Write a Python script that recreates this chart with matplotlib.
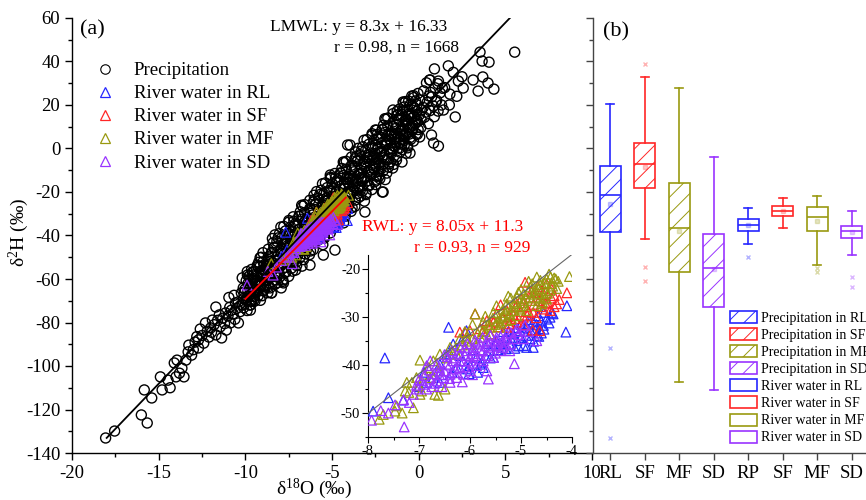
import matplotlib
matplotlib.use('Agg')
import matplotlib.pyplot as plt
from matplotlib.lines import Line2D
from matplotlib.patches import Patch
from matplotlib.ticker import MultipleLocator

plt.rcParams['font.family'] = ['Liberation Serif', 'DejaVu Serif']
plt.rcParams['mathtext.fontset'] = 'custom'
plt.rcParams['mathtext.rm'] = 'Liberation Serif'
plt.rcParams['mathtext.it'] = 'Liberation Serif:italic'
plt.rcParams['hatch.linewidth'] = 0.7
plt.rcParams['axes.unicode_minus'] = False

# ---------------- data: precipitation (delta18O, delta2H) ----------------
precip_pts = [
    # low tail
    (-18.06, -133.1), (-17.54, -129.9), (-16.0, -122.5), (-15.66, -126.2), (-15.83, -111.0),
    (-15.4, -114.7), (-14.9, -105.0), (-14.8, -111.0), (-14.34, -110.0), (-14.46, -106.5),
    (-14.0, -105.0), (-13.8, -103.3), (-13.54, -105.0), (-13.66, -101.0), (-14.1, -98.6),
    (-13.94, -97.3), (-13.43, -97.3), (-13.26, -90.4), (-12.7, -91.7), (-12.7, -88.0),
    (-12.3, -80.2), (-12.1, -86.7), (-11.7, -85.7), (-11.37, -87.1), (-11.9, -78.9),
    (-11.1, -83.5), (-10.86, -80.2), (-10.4, -80.2), (-11.14, -75.6), (-11.7, -72.9),
    (-10.8, -74.3), (-10.57, -71.0), (-9.71, -74.3), (-10.23, -66.4), (-9.66, -69.7),
    (-9.43, -65.1), (-8.5, -66.4), (-8.57, -64.1),
    (-13.0, -92.5), (-12.9, -89.0), (-12.5, -86.0), (-12.4, -89.5), (-12.2, -84.0),
    (-12.0, -82.5), (-11.8, -81.0), (-11.6, -79.0), (-11.5, -76.5), (-11.3, -78.0),
    (-11.2, -80.5), (-11.0, -77.0), (-10.9, -73.0), (-10.7, -76.0), (-10.6, -78.5),
    (-10.5, -73.5), (-10.4, -70.5), (-10.3, -75.0), (-10.2, -72.0), (-10.1, -69.0),
    (-12.6, -83.0), (-12.8, -86.5), (-13.1, -95.0), (-13.3, -93.5), (-11.95, -84.5),
    (-11.45, -82.0), (-10.95, -68.5), (-10.65, -67.5),
    # main band
    (-9.90, -74.5), (-10.15, -71.9), (-9.95, -70.0), (-9.82, -68.0), (-10.05, -66.0), (-10.12, -64.1),
    (-9.85, -62.1), (-10.18, -59.5), (-9.92, -68.7), (-10.02, -64.7), (-9.88, -58.2), (-10.10, -73.2),
    (-9.68, -71.9), (-9.48, -69.3), (-9.76, -67.3), (-9.56, -64.1), (-9.43, -62.1), (-9.70, -60.1),
    (-9.54, -58.2), (-9.64, -55.6), (-9.46, -66.0), (-9.78, -63.4), (-9.60, -56.9), (-9.51, -68.0),
    (-9.04, -67.7), (-9.26, -64.9), (-9.18, -62.8), (-9.34, -60.7), (-9.11, -58.6), (-9.01, -55.8),
    (-9.31, -53.7), (-9.15, -50.2), (-9.37, -66.3), (-9.09, -57.2), (-9.23, -52.3), (-9.13, -69.8),
    (-8.70, -66.3), (-8.95, -63.1), (-8.75, -60.7), (-8.62, -58.3), (-8.85, -55.9), (-8.92, -53.5),
    (-8.65, -51.1), (-8.98, -47.9), (-8.72, -59.1), (-8.82, -54.3), (-8.68, -46.3), (-8.90, -64.7),
    (-8.48, -66.4), (-8.28, -62.4), (-8.56, -59.4), (-8.36, -54.4), (-8.23, -51.4), (-8.50, -48.4),
    (-8.34, -45.4), (-8.44, -41.4), (-8.26, -57.4), (-8.58, -53.4), (-8.40, -43.4), (-8.31, -60.4),
    (-7.84, -61.1), (-8.06, -57.1), (-7.98, -54.1), (-8.14, -51.1), (-7.91, -48.1), (-7.81, -44.1),
    (-8.11, -41.1), (-7.95, -36.1), (-8.17, -59.1), (-7.89, -46.1), (-8.03, -39.1), (-7.93, -64.1),
    (-7.50, -58.8), (-7.75, -54.8), (-7.55, -51.8), (-7.42, -48.8), (-7.65, -45.8), (-7.72, -42.8),
    (-7.45, -39.8), (-7.78, -35.8), (-7.52, -49.8), (-7.62, -43.8), (-7.48, -33.8), (-7.70, -56.8),
    (-7.28, -56.4), (-7.08, -52.4), (-7.36, -49.4), (-7.16, -44.4), (-7.03, -41.4), (-7.30, -38.4),
    (-7.14, -35.4), (-7.24, -31.4), (-7.06, -47.4), (-7.38, -43.4), (-7.20, -33.4), (-7.11, -50.4),
    (-6.64, -51.1), (-6.86, -47.1), (-6.78, -44.1), (-6.94, -41.1), (-6.71, -38.1), (-6.61, -34.1),
    (-6.91, -31.1), (-6.75, -26.1), (-6.97, -49.1), (-6.69, -36.1), (-6.83, -29.1), (-6.73, -54.1),
    (-6.30, -48.8), (-6.55, -44.8), (-6.35, -41.8), (-6.22, -38.8), (-6.45, -35.8), (-6.52, -32.8),
    (-6.25, -29.8), (-6.58, -25.8), (-6.32, -39.8), (-6.42, -33.8), (-6.28, -23.8), (-6.50, -46.8),
    (-6.08, -46.5), (-5.88, -42.5), (-6.16, -39.5), (-5.96, -34.5), (-5.83, -31.5), (-6.10, -28.5),
    (-5.94, -25.5), (-6.04, -21.5), (-5.86, -37.5), (-6.18, -33.5), (-6.00, -23.5), (-5.91, -40.5),
    (-5.44, -41.2), (-5.66, -37.2), (-5.58, -34.2), (-5.74, -31.2), (-5.51, -28.2), (-5.41, -24.2),
    (-5.71, -21.2), (-5.55, -16.2), (-5.77, -39.2), (-5.49, -26.2), (-5.63, -19.2), (-5.53, -44.2),
    (-5.10, -38.8), (-5.35, -34.8), (-5.15, -31.8), (-5.02, -28.8), (-5.25, -25.8), (-5.32, -22.8),
    (-5.05, -19.8), (-5.38, -15.8), (-5.12, -29.8), (-5.22, -23.8), (-5.08, -13.8), (-5.30, -36.8),
    (-4.88, -36.5), (-4.68, -32.5), (-4.96, -29.5), (-4.76, -24.5), (-4.63, -21.5), (-4.90, -18.5),
    (-4.74, -15.5), (-4.84, -11.5), (-4.66, -27.5), (-4.98, -23.5), (-4.80, -13.5), (-4.71, -30.5),
    (-4.24, -31.2), (-4.46, -27.2), (-4.38, -24.2), (-4.54, -21.2), (-4.31, -18.2), (-4.21, -14.2),
    (-4.51, -11.2), (-4.35, -6.2), (-4.57, -29.2), (-4.29, -16.2), (-4.43, -9.2), (-4.33, -34.2),
    (-3.90, -28.9), (-4.15, -24.9), (-3.95, -21.9), (-3.82, -18.9), (-4.05, -15.9), (-4.12, -12.9),
    (-3.85, -9.9), (-4.18, -5.9), (-3.92, -19.9), (-4.02, -13.9), (-3.88, -3.9), (-4.10, -26.9),
    (-3.68, -26.6), (-3.48, -22.6), (-3.76, -19.6), (-3.56, -14.6), (-3.43, -11.6), (-3.70, -8.6),
    (-3.54, -5.6), (-3.64, -1.6), (-3.46, -17.6), (-3.78, -13.6), (-3.60, -3.6), (-3.51, -20.6),
    (-3.04, -21.2), (-3.26, -17.2), (-3.18, -14.2), (-3.34, -11.2), (-3.11, -8.2), (-3.01, -4.2),
    (-3.31, -1.2), (-3.15, 3.8), (-3.37, -19.2), (-3.09, -6.2), (-3.23, 0.8), (-3.13, -24.2),
    (-2.70, -18.9), (-2.95, -14.9), (-2.75, -11.9), (-2.62, -8.9), (-2.85, -5.9), (-2.92, -2.9),
    (-2.65, 0.1), (-2.98, 4.1), (-2.72, -9.9), (-2.82, -3.9), (-2.68, 6.1), (-2.90, -16.9),
    (-2.48, -16.6), (-2.28, -12.6), (-2.56, -9.6), (-2.36, -4.6), (-2.23, -1.6), (-2.50, 1.4),
    (-2.34, 4.4), (-2.44, 8.4), (-2.26, -7.6), (-2.58, -3.6), (-2.40, 6.4), (-2.31, -10.6),
    (-1.84, -11.3), (-2.06, -7.3), (-1.98, -4.3), (-2.14, -1.3), (-1.91, 1.7), (-1.81, 5.7),
    (-2.11, 8.7), (-1.95, 13.7), (-2.17, -9.3), (-1.89, 3.7), (-2.03, 10.7), (-1.93, -14.3),
    (-1.50, -9.0), (-1.75, -5.0), (-1.55, -2.0), (-1.42, 1.0), (-1.65, 4.0), (-1.72, 7.0),
    (-1.45, 10.0), (-1.78, 14.0), (-1.52, 0.0), (-1.62, 6.0), (-1.48, 16.0), (-1.70, -7.0),
    (-1.28, -5.3), (-1.08, -1.7), (-1.36, 1.0), (-1.16, 5.5), (-1.03, 8.2), (-1.30, 10.9),
    (-1.14, 13.6), (-1.24, 17.2), (-1.06, 2.8), (-1.38, 6.4), (-1.20, 15.4), (-1.11, 0.1),
    (-0.64, 0.3), (-0.86, 3.7), (-0.78, 6.3), (-0.94, 8.8), (-0.71, 11.4), (-0.61, 14.8),
    (-0.91, 17.4), (-0.75, 21.6), (-0.97, 2.0), (-0.69, 13.1), (-0.83, 19.1), (-0.73, -2.2),
    (-0.30, 3.4), (-0.55, 6.6), (-0.35, 9.0), (-0.22, 11.4), (-0.45, 13.8), (-0.52, 16.2),
    (-0.25, 18.6), (-0.58, 21.8), (-0.32, 10.6), (-0.42, 15.4), (-0.28, 23.4), (-0.50, 5.0),
    (-0.08, 6.5), (0.12, 9.5), (-0.16, 11.8), (0.04, 15.5), (0.17, 17.8), (-0.10, 20.1),
    (0.06, 22.3), (-0.04, 25.3), (0.14, 13.3),
    (0.56, 11.4), (0.34, 14.4), (0.42, 16.7), (0.26, 18.9), (0.49, 21.2), (0.59, 24.2),
    (0.29, 26.5), (0.45, 30.2),
    (0.90, 14.6), (0.65, 17.4), (0.85, 19.5), (0.98, 21.6), (0.75, 23.7), (0.68, 25.8), (0.95, 27.9),
    (1.12, 17.2), (1.32, 20.0), (1.04, 22.1), (1.24, 25.6), (1.37, 27.7), (1.10, 29.8),
    # second pass through the dense band
    (-9.75, -72.0), (-9.92, -69.6), (-9.67, -67.1), (-9.87, -65.0), (-9.70, -62.9),
    (-9.95, -60.8), (-9.78, -58.7), (-9.63, -70.3), (-9.89, -56.6), (-9.72, -66.1),
    (-9.44, -70.1), (-9.26, -67.7), (-9.51, -65.2), (-9.31, -63.1), (-9.56, -60.6),
    (-9.34, -58.5), (-9.48, -56.4), (-9.28, -54.3), (-9.40, -62.1), (-9.53, -59.9),
    (-8.95, -65.4), (-9.12, -63.0), (-8.87, -60.5), (-9.07, -58.4), (-8.90, -56.3),
    (-9.15, -54.2), (-8.98, -52.1), (-8.83, -63.7), (-9.09, -50.0), (-8.92, -59.5),
    (-8.64, -63.5), (-8.46, -61.1), (-8.71, -58.6), (-8.51, -56.5), (-8.76, -54.0),
    (-8.54, -51.9), (-8.68, -49.8), (-8.48, -47.7), (-8.60, -55.5), (-8.73, -53.3),
    (-8.15, -61.7), (-8.32, -58.2), (-8.07, -54.7), (-8.27, -51.7), (-8.10, -48.7),
    (-8.35, -45.7), (-8.18, -42.7), (-8.03, -59.2), (-8.29, -39.7), (-8.12, -53.2),
    (-7.84, -60.4), (-7.66, -56.9), (-7.91, -53.4), (-7.71, -50.4), (-7.96, -46.9),
    (-7.74, -43.9), (-7.88, -40.9), (-7.68, -37.9), (-7.80, -48.9), (-7.93, -45.9),
    (-7.35, -55.1), (-7.52, -51.6), (-7.27, -48.1), (-7.47, -45.1), (-7.30, -42.1),
    (-7.55, -39.1), (-7.38, -36.1), (-7.23, -52.6), (-7.49, -33.1), (-7.32, -46.6),
    (-7.04, -53.8), (-6.86, -50.3), (-7.11, -46.8), (-6.91, -43.8), (-7.16, -40.3),
    (-6.94, -37.3), (-7.08, -34.3), (-6.88, -31.3), (-7.00, -42.3), (-7.13, -39.3),
    (-6.55, -48.5), (-6.72, -45.0), (-6.47, -41.5), (-6.67, -38.5), (-6.50, -35.5),
    (-6.75, -32.5), (-6.58, -29.5), (-6.43, -46.0), (-6.69, -26.5), (-6.52, -40.0),
    (-6.24, -47.1), (-6.06, -43.6), (-6.31, -40.1), (-6.11, -37.1), (-6.36, -33.6),
    (-6.14, -30.6), (-6.28, -27.6), (-6.08, -24.6), (-6.20, -35.6), (-6.33, -32.6),
    (-5.75, -41.8), (-5.92, -38.3), (-5.67, -34.8), (-5.87, -31.8), (-5.70, -28.8),
    (-5.95, -25.8), (-5.78, -22.8), (-5.63, -39.3), (-5.89, -19.8), (-5.72, -33.3),
    (-5.44, -40.5), (-5.26, -37.0), (-5.51, -33.5), (-5.31, -30.5), (-5.56, -27.0),
    (-5.34, -24.0), (-5.48, -21.0), (-5.28, -18.0), (-5.40, -29.0), (-5.53, -26.0),
    (-4.95, -35.2), (-5.12, -31.7), (-4.87, -28.2), (-5.07, -25.2), (-4.90, -22.2),
    (-5.15, -19.2), (-4.98, -16.2), (-4.83, -32.7), (-5.09, -13.2), (-4.92, -26.7),
    (-4.64, -33.9), (-4.46, -30.4), (-4.71, -26.9), (-4.51, -23.9), (-4.76, -20.4),
    (-4.54, -17.4), (-4.68, -14.4), (-4.48, -11.4), (-4.60, -22.4), (-4.73, -19.4),
    (-4.15, -28.5), (-4.32, -25.0), (-4.07, -21.5), (-4.27, -18.5), (-4.10, -15.5),
    (-4.35, -12.5), (-4.18, -9.5), (-4.03, -26.0), (-4.29, -6.5), (-4.12, -20.0),
    (-3.84, -27.2), (-3.66, -23.7), (-3.91, -20.2), (-3.71, -17.2), (-3.96, -13.7),
    (-3.74, -10.7), (-3.88, -7.7), (-3.68, -4.7), (-3.80, -15.7), (-3.93, -12.7),
    (-3.35, -21.9), (-3.52, -18.4), (-3.27, -14.9), (-3.47, -11.9), (-3.30, -8.9),
    (-3.55, -5.9), (-3.38, -2.9), (-3.23, -19.4), (-3.49, 0.1), (-3.32, -13.4),
    (-3.04, -20.6), (-2.86, -17.1), (-3.11, -13.6), (-2.91, -10.6), (-3.16, -7.1),
    (-2.94, -4.1), (-3.08, -1.1), (-2.88, 1.9), (-3.00, -9.1), (-3.13, -6.1),
    (-2.55, -15.3), (-2.72, -11.8), (-2.47, -8.3), (-2.67, -5.3), (-2.50, -2.3),
    (-2.75, 0.8), (-2.58, 3.8), (-2.43, -12.8), (-2.69, 6.8), (-2.52, -6.8),
    (-2.24, -13.9), (-2.06, -10.4), (-2.31, -6.9), (-2.11, -3.9), (-2.36, -0.4),
    (-2.14, 2.6), (-2.28, 5.6), (-2.08, 8.6), (-2.20, -2.4), (-2.33, 0.6),
    (-1.75, -8.6), (-1.92, -5.1), (-1.67, -1.6), (-1.87, 1.4), (-1.70, 4.4),
    (-1.95, 7.4), (-1.78, 10.4), (-1.63, -6.1), (-1.89, 13.4), (-1.72, -0.1),
    (-1.44, -7.3), (-1.26, -3.8), (-1.51, -0.3), (-1.31, 2.7), (-1.56, 6.2),
    (-1.34, 9.2), (-1.48, 12.2), (-1.28, 15.2), (-1.40, 4.2), (-1.53, 7.2),
    (-0.95, -0.5), (-1.12, 2.5), (-0.87, 5.4), (-1.07, 8.0), (-0.90, 10.6),
    (-1.15, 13.1), (-0.98, 15.7), (-0.83, 1.6), (-1.09, 18.2), (-0.92, 6.7),
    (-0.64, 1.2), (-0.46, 4.2), (-0.71, 7.1), (-0.51, 9.7), (-0.76, 12.7),
    (-0.54, 15.2), (-0.68, 17.8), (-0.48, 20.3), (-0.60, 11.0), (-0.73, 13.5),
    (-0.15, 6.7), (-0.32, 9.5), (-0.07, 12.3), (-0.27, 14.7), (-0.10, 17.1),
    (-0.35, 19.5), (-0.18, 21.9), (-0.03, 8.7), (-0.29, 24.3), (-0.12, 13.5),
    # upper scatter and outliers
    (5.54, 44.3), (3.54, 44.3), (3.66, 40.2), (4.06, 39.7), (3.7, 32.9), (4.0, 30.1),
    (4.34, 27.3), (3.43, 26.4), (3.14, 31.5), (2.29, 31.0), (2.57, 27.8), (1.71, 38.0),
    (0.91, 36.6), (0.63, 31.5), (1.14, 31.0), (1.77, 20.0), (2.11, 14.5), (1.43, 17.7),
    (0.74, 6.2), (0.86, 2.5), (1.14, 1.1), (0.06, 5.3), (-0.4, 24.1), (-0.86, 20.9),
    (-2.1, -20.0), (-3.1, -29.2), (-2.4, -14.5), (-4.1, 1.6), (0.66, 31.5), (-0.9, 21.4),
    (-1.48, 17.7), (-2.5, 8.5), (-3.96, 1.6), (-5.1, -12.2), (-2.05, -20.0), (-0.96, -6.2),
    (-0.5, -2.1), (1.8, 25.0), (2.5, 33.0), (2.0, 35.0), (1.5, 28.0), (2.2, 24.0),
    (-4.83, -46.7), (-5.5, -49.0), (-6.27, -53.6), (-7.1, -55.9), (-7.8, -61.8),
]

# ---------------- data: river water (delta18O, delta2H) ----------------
river_rl = [
    (-7.67, -38.5), (-6.42, -32.1), (-4.1, -27.6), (-4.12, -33.1), (-4.66, -29.7), (-4.63, -32.4),
    (-4.89, -36.3), (-4.76, -36.3), (-7.6, -46.8), (-7.9, -49.6), (-7.31, -47.3), (-5.74, -40.5),
    (-5.48, -34.9), (-5.28, -34.2), (-5.15, -33.5), (-5.02, -32.8), (-4.89, -32.1), (-4.76, -31.0),
    (-5.22, -35.6), (-5.38, -36.3), (-5.61, -37.0), (-5.87, -38.4), (-6.0, -40.1), (-6.13, -39.1),
    (-6.26, -40.5), (-6.39, -37.7), (-6.59, -39.8), (-6.72, -42.6), (-6.85, -43.6), (-6.59, -43.6),
    (-4.69, -33.8), (-5.08, -34.9), (-4.95, -35.9), (-4.82, -34.5), (-4.56, -31.7), (-4.43, -30.0),
    (-4.37, -29.3), (-5.54, -38.4), (-5.77, -39.4), (-6.07, -32.8), (-6.16, -34.9), (-6.33, -35.6),
    (-6.46, -37.7), (-5.35, -33.0), (-5.0, -31.5), (-4.85, -30.5), (-4.6, -30.8), (-5.45, -36.8),
    (-5.65, -35.5), (-5.95, -36.8), (-6.2, -38.0), (-4.72, -32.6), (-4.55, -29.0), (-5.12, -36.5),
    (-6.02, -41.8), (-5.85, -41.5), (-6.55, -42.0), (-6.9, -41.5), (-7.0, -44.5),
    (-4.45, -31.2), (-4.55, -32.5), (-4.65, -34.0), (-4.8, -33.0), (-4.9, -33.8), (-5.0, -34.2),
    (-5.05, -36.0), (-5.2, -34.4), (-5.3, -36.6), (-5.5, -35.6), (-5.6, -38.5), (-5.7, -38.0),
    (-5.8, -39.8), (-4.5, -30.4), (-4.7, -31.5), (-4.85, -31.3), (-5.1, -32.2), (-4.4, -29.0),
    (-4.6, -33.3), (-5.25, -33.0), (-5.4, -35.5), (-4.75, -35.0), (-4.95, -33.0), (-6.05, -40.8),
    (-6.35, -41.5),
]
river_sf = [
    (-4.92, -22.7), (-5.9, -29.3), (-6.2, -33.1), (-6.1, -33.1), (-6.0, -32.8), (-4.1, -24.9),
    (-4.77, -32.7), (-4.63, -32.8), (-4.3, -27.2), (-4.43, -28.6), (-4.56, -28.3), (-4.76, -29.0),
    (-4.95, -30.0), (-5.08, -31.0), (-5.28, -32.1), (-5.48, -29.3), (-5.67, -30.7), (-5.08, -27.2),
    (-4.82, -25.8), (-4.59, -24.4), (-4.5, -23.0), (-5.28, -28.6), (-5.54, -31.0), (-5.8, -32.4),
    (-4.65, -26.5), (-4.9, -27.8), (-5.15, -29.5), (-5.35, -30.2), (-4.4, -26.0), (-4.7, -24.9),
    (-5.0, -26.2), (-4.85, -28.9), (-4.35, -25.5), (-5.6, -33.5), (-5.4, -27.4), (-4.52, -27.1),
    (-4.48, -26.9), (-4.62, -27.8), (-4.75, -27.3), (-4.88, -29.6), (-5.0, -28.8), (-5.12, -30.3),
    (-5.22, -31.4), (-5.45, -32.0), (-4.35, -27.8), (-4.25, -26.3), (-4.7, -30.1), (-4.95, -31.6),
    (-5.6, -31.5), (-5.75, -33.0), (-4.58, -25.3), (-4.4, -24.1), (-4.67, -23.6), (-4.8, -24.7),
    (-5.1, -27.8), (-5.25, -29.9),
]
river_mf = [
    (-6.98, -38.95), (-6.36, -37.0), (-7.24, -43.6), (-7.27, -45.4), (-7.2, -45.7), (-7.01, -44.3),
    (-6.98, -46.1), (-6.95, -45.4), (-6.69, -46.1), (-6.62, -46.3), (-6.49, -45.0), (-7.47, -49.6),
    (-7.33, -50.0), (-7.78, -51.3), (-7.7, -50.3), (-7.11, -48.9), (-7.44, -48.5),
    (-5.9, -29.3), (-5.74, -31.0), (-5.54, -29.0), (-5.28, -27.2), (-5.08, -25.8), (-4.95, -25.1),
    (-4.69, -21.6), (-4.5, -22.0), (-4.4, -23.0), (-4.27, -22.5), (-4.43, -24.4), (-4.56, -25.8),
    (-4.82, -23.7), (-4.79, -26.5), (-4.6, -27.2), (-5.02, -28.3), (-5.22, -29.3), (-5.38, -30.0),
    (-5.61, -32.1), (-6.07, -34.2), (-6.2, -34.5), (-6.39, -36.3), (-6.59, -37.7), (-6.72, -39.1),
    (-6.82, -40.5), (-6.88, -41.9), (-7.05, -42.6), (-7.14, -43.6), (-6.78, -42.6), (-6.62, -41.2),
    (-6.26, -37.7), (-6.0, -35.6), (-5.8, -34.2), (-5.61, -33.5), (-5.41, -32.1), (-5.28, -30.7),
    (-5.08, -29.7), (-4.89, -28.6), (-4.69, -27.6), (-4.5, -26.2), (-4.73, -24.4), (-4.95, -26.5),
    (-5.15, -27.2), (-5.35, -28.3), (-5.48, -27.6), (-4.35, -21.8), (-4.62, -23.2), (-5.0, -24.2),
    (-5.2, -26.0), (-4.3, -24.0), (-4.85, -22.5), (-5.7, -29.8), (-5.95, -31.5), (-6.1, -33.0),
    (-8.5, -53.0), (-4.05, -21.5),
    (-4.45, -21.0), (-4.55, -22.8), (-4.65, -24.0), (-4.75, -25.2), (-4.85, -24.6), (-4.95, -27.0),
    (-5.05, -27.9), (-5.15, -28.6), (-5.25, -27.9), (-5.35, -29.6), (-5.45, -30.8), (-5.55, -30.2),
    (-5.65, -31.6), (-5.75, -32.8), (-5.85, -33.4), (-5.95, -34.5), (-6.05, -35.0), (-6.15, -35.8),
    (-6.3, -36.8), (-6.45, -38.5), (-4.38, -23.5), (-4.48, -25.0), (-4.58, -26.8), (-4.7, -26.0),
    (-4.9, -26.0), (-5.1, -26.8), (-5.3, -29.0), (-5.5, -31.5), (-5.7, -33.0), (-4.32, -22.0),
    (-4.42, -21.6), (-4.62, -22.3), (-4.78, -23.0), (-5.05, -24.8), (-5.25, -25.6), (-4.52, -24.5),
    (-4.66, -25.0), (-4.98, -27.6), (-5.18, -30.5), (-5.4, -31.2),
]
river_sd = [
    (-7.93, -51.5), (-7.29, -52.9), (-5.64, -42.9), (-5.13, -39.7), (-7.19, -47.8), (-7.47, -48.3),
    (-6.78, -39.1), (-6.85, -40.1), (-6.59, -41.2), (-6.46, -39.8), (-6.33, -39.1), (-6.2, -37.7),
    (-6.07, -37.0), (-5.93, -36.3), (-5.8, -35.6), (-5.67, -34.9), (-5.48, -34.2), (-5.28, -33.5),
    (-5.08, -32.4), (-4.92, -31.7), (-4.69, -34.9), (-4.95, -34.5), (-5.22, -37.0), (-5.41, -37.0),
    (-5.54, -38.4), (-5.74, -39.1), (-5.87, -40.1), (-6.0, -41.2), (-6.13, -41.9), (-6.26, -42.6),
    (-6.39, -41.9), (-6.52, -42.6), (-6.65, -43.3), (-6.78, -42.9), (-6.91, -44.0), (-7.05, -45.0),
    (-7.11, -46.1), (-6.39, -43.6), (-6.2, -40.5), (-6.03, -39.1), (-5.9, -38.0), (-5.61, -36.3),
    (-5.38, -35.2), (-5.15, -34.5), (-5.67, -41.2), (-6.65, -39.8), (-6.1, -36.3), (-5.87, -35.2),
    (-6.45, -38.2), (-6.7, -41.8), (-6.3, -40.8), (-5.95, -37.6), (-5.75, -37.0), (-5.5, -36.0),
    (-5.3, -35.8), (-6.55, -44.5), (-6.9, -42.2), (-7.0, -43.0), (-5.05, -33.6), (-4.85, -33.0),
    (-5.95, -42.0), (-6.15, -43.5), (-7.3, -47.2), (-7.6, -50.0), (-7.75, -49.5),
    (-9.9, -62.8), (-8.4, -58.2), (-8.2, -54.5), (-8.7, -56.5),
    (-6.6, -40.5), (-6.5, -41.2), (-6.4, -40.0), (-6.3, -38.5), (-6.2, -39.2), (-6.1, -38.0),
    (-6.0, -38.3), (-5.9, -37.0), (-5.8, -36.8), (-5.7, -36.0), (-5.6, -35.2), (-5.5, -34.8),
    (-5.4, -34.0), (-5.3, -34.6), (-5.2, -33.2), (-5.1, -33.0), (-6.7, -43.8), (-6.6, -42.0),
    (-6.4, -42.8), (-6.25, -41.6), (-6.1, -40.4), (-5.95, -39.6), (-5.8, -38.7), (-5.65, -38.0),
    (-5.5, -37.5), (-5.35, -36.3), (-5.2, -35.6), (-6.8, -41.0), (-6.95, -43.2), (-6.05, -35.5),
    (-5.9, -34.8), (-5.75, -34.2), (-6.5, -37.8), (-6.35, -37.0), (-6.2, -36.2), (-5.6, -33.8),
    (-7.05, -44.2), (-6.85, -45.0), (-6.75, -44.5), (-5.45, -35.9),
]
river_labels = ['River water in RL', 'River water in SF', 'River water in MF', 'River water in SD']

# regression lines
lmwl_slope, lmwl_icpt, lmwl_xrange = 8.3, 16.33, (-18.0, 5.26)
rwl_slope, rwl_icpt, rwl_xrange = 8.05, 11.3, (-10.0, -4.2)

# ---------------- data: panel (b) box statistics ----------------
box_labels = ['RL', 'SF', 'MF', 'SD', 'RP', 'SF', 'MF', 'SD']
box_whishi = [20.4, 32.9, 27.8, -3.9, -27.4, -22.8, -21.8, -28.7]
box_q3 = [-8.0, 2.5, -15.9, -39.3, -32.5, -26.5, -26.9, -35.6]
box_med = [-21.4, -7.1, -36.6, -55.0, -35.2, -28.7, -31.5, -38.0]
box_q1 = [-38.4, -18.2, -56.8, -72.9, -38.0, -30.9, -37.9, -41.2]
box_whislo = [-80.7, -41.6, -107.4, -111.0, -44.0, -36.6, -53.6, -49.0]
box_mean = [-25.5, -8.5, -38.0, -55.5, -35.3, -28.8, -33.2, -38.4]
box_fliers = [[-91.8, -133.0], [38.8, -54.5, -61.0], [], [], [-49.9], [], [-55.0, -56.8], [-59.0, -63.7]]
box_legend = ['Precipitation in RL', 'Precipitation in SF', 'Precipitation in MF', 'Precipitation in SD',
              'River water in RL', 'River water in SF', 'River water in MF', 'River water in SD']

BLUE, RED, OLIVE, PURPLE = '#2626ff', '#ff2626', '#999910', '#9933ff'
group_colors = [BLUE, RED, OLIVE, PURPLE]
box_colors = group_colors + group_colors

W, H = 866, 500
fig = plt.figure(figsize=(W / 100, H / 100), dpi=100)

# ================= panel (a) =================
ax = fig.add_axes([72 / W, 1 - 453 / H, 520 / W, 435 / H])
px = [p[0] for p in precip_pts]
py = [p[1] for p in precip_pts]
ax.scatter(px, py, s=52, facecolors='none', edgecolors='black', linewidths=1.0, zorder=2)
river_sets = [river_rl, river_sf, river_mf, river_sd]
for data, c in zip(river_sets, group_colors):
    ax.scatter([p[0] for p in data], [p[1] for p in data], marker='^', s=50,
               facecolors='none', edgecolors=c, linewidths=0.9, zorder=3)
lx = list(lmwl_xrange)
ax.plot(lx, [lmwl_slope * v + lmwl_icpt for v in lx], color='black', lw=1.3, zorder=5)
rx = list(rwl_xrange)
ax.plot(rx, [rwl_slope * v + rwl_icpt for v in rx], color='red', lw=1.3, zorder=5)

ax.set_xlim(-20, 10)
ax.set_ylim(-140, 60)
ax.xaxis.set_major_locator(MultipleLocator(5))
ax.xaxis.set_minor_locator(MultipleLocator(2.5))
ax.yaxis.set_major_locator(MultipleLocator(20))
ax.yaxis.set_minor_locator(MultipleLocator(10))
ax.tick_params(which='both', direction='out', width=1, labelsize=13.5)
ax.tick_params(which='major', length=5)
ax.tick_params(which='minor', length=3)
for s in ['top', 'right']:
    ax.spines[s].set_visible(False)
for s in ['left', 'bottom']:
    ax.spines[s].set_linewidth(1.0)

handles = [Line2D([], [], ls='none', marker='o', ms=6.8, mfc='none', mec='black', mew=0.8)]
for c in group_colors:
    handles.append(Line2D([], [], ls='none', marker='^', ms=7, mfc='none', mec=c, mew=0.9))
ax.legend(handles, ['Precipitation'] + river_labels, loc='upper left',
          bbox_to_anchor=(96 / W, 1 - 62 / H), bbox_transform=fig.transFigure,
          frameon=False, fontsize=13.5, handlelength=1.0, handletextpad=1.0,
          labelspacing=0.32, borderpad=0, borderaxespad=0)

fig.text(80 / W, 1 - 30 / H, '(a)', fontsize=16, ha='left', va='center')
fig.text(270 / W, 1 - 27 / H, 'LMWL: y = 8.3x + 16.33', fontsize=12.5, ha='left', va='center')
fig.text(334 / W, 1 - 48 / H, 'r = 0.98, n = 1668', fontsize=12.5, ha='left', va='center')
fig.text(362 / W, 1 - 227 / H, 'RWL: y = 8.05x + 11.3', fontsize=12.5, ha='left', va='center', color='red')
fig.text(414 / W, 1 - 248 / H, 'r = 0.93, n = 929', fontsize=12.5, ha='left', va='center', color='red')
fig.text(314 / W, 1 - 489 / H, 'δ$^{18}$O (‰)', fontsize=14, ha='center', va='center')
fig.text(19 / W, 1 - 232 / H, 'δ$^{2}$H (‰)', fontsize=14, ha='center', va='center', rotation=90)

# ================= inset =================
axi = fig.add_axes([368 / W, 1 - 437 / H, 204 / W, 182 / H])
for data, c in zip(river_sets, group_colors):
    axi.scatter([p[0] for p in data], [p[1] for p in data], marker='^', s=48,
                facecolors='none', edgecolors=c, linewidths=0.9, zorder=3)
ix = [-8.0, -4.0]
axi.plot(ix, [lmwl_slope * v + lmwl_icpt for v in ix], color='#666666', lw=0.8, zorder=5)
axi.set_xlim(-8, -4)
axi.set_ylim(-55, -17)
axi.xaxis.set_major_locator(MultipleLocator(1))
axi.xaxis.set_minor_locator(MultipleLocator(0.5))
axi.yaxis.set_major_locator(MultipleLocator(10))
axi.yaxis.set_minor_locator(MultipleLocator(5))
axi.tick_params(which='both', direction='out', width=0.8, labelsize=10.5, pad=1.5)
axi.tick_params(which='major', length=4)
axi.tick_params(which='minor', length=2)
for s in ['top', 'right']:
    axi.spines[s].set_visible(False)
for s in ['left', 'bottom']:
    axi.spines[s].set_linewidth(0.8)

# ================= panel (b) =================
axb = fig.add_axes([593 / W, 1 - 453 / H, 273 / W, 435 / H])
stats = []
for i in range(len(box_labels)):
    stats.append(dict(med=box_med[i], q1=box_q1[i], q3=box_q3[i], whislo=box_whislo[i],
                      whishi=box_whishi[i], mean=box_mean[i], fliers=box_fliers[i]))
positions = list(range(1, len(box_labels) + 1))
bp = axb.bxp(stats, positions=positions, widths=0.6, capwidths=0.22, patch_artist=True,
             showmeans=True, showfliers=True)
for i, c in enumerate(box_colors):
    box = bp['boxes'][i]
    box.set_facecolor('white')
    if i < 4:
        box.set_hatch('//')
    box.set_edgecolor(c)
    box.set_linewidth(1.2)
    bp['medians'][i].set_color(c)
    bp['medians'][i].set_linewidth(1.2)
    for w in bp['whiskers'][2 * i:2 * i + 2]:
        w.set_color(c)
        w.set_linewidth(1.2)
    for cp in bp['caps'][2 * i:2 * i + 2]:
        cp.set_color(c)
        cp.set_linewidth(1.2)
    m = bp['means'][i]
    m.set_marker('s')
    m.set_markersize(2.5)
    m.set_markerfacecolor(c)
    m.set_markeredgecolor(c)
    m.set_alpha(0.25)
    f = bp['fliers'][i]
    f.set_marker('x')
    f.set_markersize(3)
    f.set_markeredgecolor(c)
    f.set_alpha(0.35)

axb.set_xlim(0.5, 0.5 + 273 / 34.5)
axb.set_ylim(-140, 60)
axb.set_xticks(positions)
axb.set_xticklabels(box_labels)
axb.yaxis.set_major_locator(MultipleLocator(20))
axb.yaxis.set_minor_locator(MultipleLocator(10))
axb.yaxis.set_ticklabels([])
axb.tick_params(which='both', direction='out', width=1, colors='#444444', labelsize=13.5,
                labelcolor='black')
axb.tick_params(which='major', length=5)
axb.tick_params(which='minor', length=3)
for s in ['top', 'right']:
    axb.spines[s].set_visible(False)
for s in ['left', 'bottom']:
    axb.spines[s].set_color('#444444')
    axb.spines[s].set_linewidth(1.0)

leg_handles = []
for i, c in enumerate(box_colors):
    leg_handles.append(Patch(facecolor='white', edgecolor=c, hatch='//' if i < 4 else None, lw=1.2))
axb.legend(leg_handles, box_legend, loc='upper left', bbox_to_anchor=(730 / W, 1 - 311 / H),
           bbox_transform=fig.transFigure, frameon=False, fontsize=10, handlelength=1.95,
           handleheight=0.95, handletextpad=0.25, labelspacing=0.24, borderpad=0, borderaxespad=0)
fig.text(603 / W, 1 - 32 / H, '(b)', fontsize=16, ha='left', va='center')

fig.savefig('out.png', dpi=100)
